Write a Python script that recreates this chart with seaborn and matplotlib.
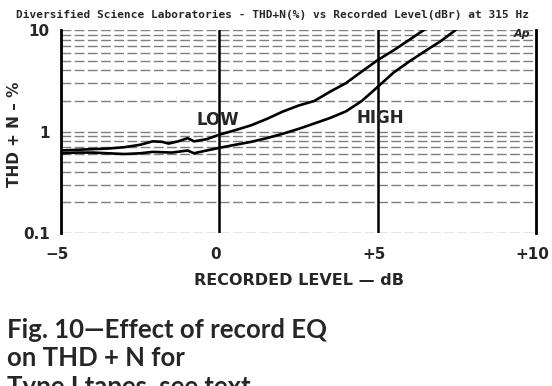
import matplotlib
matplotlib.use("Agg")
import matplotlib.pyplot as plt
import matplotlib.transforms as mtransforms
import seaborn as sns
import pandas as pd
import numpy as np

# ---- data ----
low_x = [-5, -4.5, -4, -3.5, -3, -2.5, -2.1, -1.8, -1.6, -1.3, -1.0, -0.8, -0.4, 0,
         0.5, 1.0, 1.5, 2.0, 2.5, 3.0, 3.5, 4.0, 4.5, 5.0, 5.5, 6.0, 6.5, 6.7]
low_y = [0.65, 0.66, 0.67, 0.68, 0.70, 0.74, 0.80, 0.79, 0.76, 0.80, 0.86, 0.80, 0.84, 0.93,
         1.03, 1.15, 1.33, 1.57, 1.80, 2.0, 2.47, 3.0, 3.9, 5.05, 6.3, 8.0, 10.2, 11.0]
high_x = [-5, -4.5, -4, -3.5, -3, -2.5, -2.1, -1.5, -1.0, -0.8, -0.5, 0,
          0.5, 1.0, 1.5, 2.0, 2.5, 3.0, 3.5, 4.0, 4.5, 5.0, 5.5, 6.0, 6.5, 7.0, 7.5, 7.7]
high_y = [0.61, 0.62, 0.62, 0.61, 0.60, 0.61, 0.63, 0.62, 0.65, 0.61, 0.64, 0.69,
          0.74, 0.79, 0.86, 0.95, 1.06, 1.20, 1.36, 1.58, 2.0, 2.75, 3.8, 4.9, 6.2, 7.8, 10.2, 11.0]

x_ticks = [-5, 0, 5, 10]
x_tick_labels = ["\u22125", "0", "+5", "+10"]
y_ticks = [0.1, 1, 10]
y_tick_labels = ["0.1", "1", "10"]

title = "Diversified Science Laboratories - THD+N(%) vs Recorded Level(dBr) at 315 Hz"
caption = ["Fig. 10\u2014Effect of record EQ", "on THD + N for", "Type I tapes, see text."]

df = pd.concat([
    pd.DataFrame({"level": low_x, "thd": low_y, "eq": "LOW"}),
    pd.DataFrame({"level": high_x, "thd": high_y, "eq": "HIGH"}),
])

sns.set_style("white")
plt.rcParams["font.family"] = ["DejaVu Sans"]

fig = plt.figure(figsize=(5.52, 3.86), dpi=100)
ax = fig.add_axes([61 / 552, 1 - 233 / 386, 475 / 552, 203 / 386])

sns.lineplot(data=df, x="level", y="thd", hue="eq", palette=["black", "black"],
             linewidth=1.9, legend=False, ax=ax, sort=False, estimator=None)

ax.set_yscale("log")
ax.set_xlim(-5, 10)
ax.set_ylim(0.1, 10)

# grid: dashed horizontals at every decade/minor level
ax.yaxis.grid(True, which="both", color="#3a3a3a", linestyle=(0, (7, 2.5)),
              linewidth=1.0, alpha=0.65)
ax.xaxis.grid(False)
ax.axvline(0, color="black", linewidth=1.8)
ax.axvline(5, color="black", linewidth=1.8)

for s in ["top", "bottom"]:
    ax.spines[s].set_visible(False)
for s in ["left", "right"]:
    ax.spines[s].set_color("black")
    ax.spines[s].set_linewidth(2.0)

ax.set_xticks(x_ticks)
ax.set_xticklabels(x_tick_labels, fontsize=11, fontweight="bold")
ax.set_yticks(y_ticks)
ax.set_yticklabels(y_tick_labels, fontsize=11, fontweight="bold")
ax.yaxis.set_minor_formatter(matplotlib.ticker.NullFormatter())
ax.tick_params(axis="both", which="both", length=0)
ax.tick_params(axis="x", pad=10)
ax.tick_params(axis="y", pad=8)

# shift x tick labels slightly left, as in the reference
shift = mtransforms.ScaledTranslation(-4 / 100, 0, fig.dpi_scale_trans)
for lab in ax.get_xticklabels():
    lab.set_transform(lab.get_transform() + shift)

ax.set_xlabel("RECORDED LEVEL \u2014 dB", fontsize=11.5, fontweight="bold", labelpad=8)
ax.set_ylabel("")
fig.text(15 / 552, 1 - 134 / 386, "THD + N \u2013 %", fontsize=11, fontweight="bold",
         rotation=90, ha="center", va="center")

ax.text(-0.05, 1.30, "LOW", fontsize=12, fontweight="bold", ha="center", va="center")
ax.text(5.07, 1.37, "HIGH", fontsize=12, fontweight="bold", ha="center", va="center")
ax.text(9.55, 9.1, "Ap", fontsize=8, fontweight="bold", style="italic", ha="center", va="center")

fig.text(273 / 552, 1 - 15 / 386, title, fontsize=8, fontweight="bold",
         family="DejaVu Sans Mono", ha="center", va="center")

cap_tops = [318, 346, 375]
for line, top in zip(caption, cap_tops):
    fig.text(7 / 552, 1 - top / 386, line, fontsize=18.5, fontweight="bold",
             family=["Lato", "DejaVu Sans"], ha="left", va="top")

fig.savefig("out.png", dpi=100)
